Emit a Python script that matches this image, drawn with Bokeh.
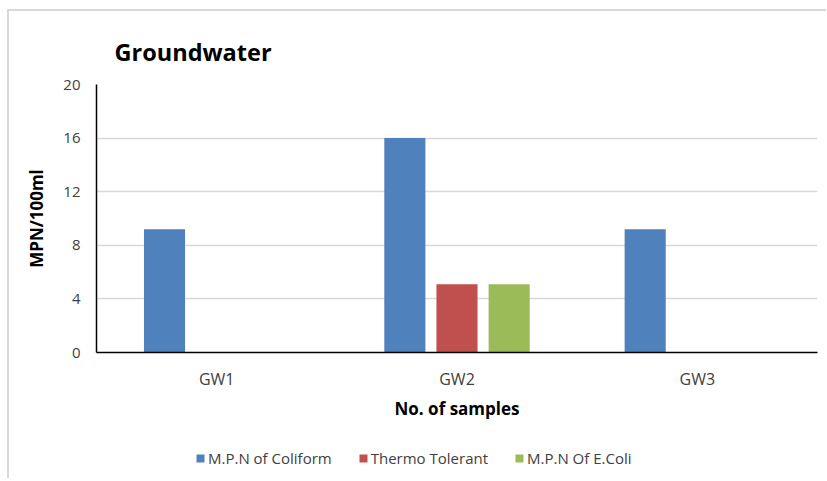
from bokeh.plotting import figure
from bokeh.models import ColumnDataSource, FactorRange, Legend, LegendItem
from bokeh.layouts import column
from bokeh.transform import dodge
from bokeh.embed import file_html
from bokeh.resources import INLINE

samples = ["GW1", "GW2", "GW3"]
coliform = [9.2, 16, 9.2]
thermo = [0, 5.1, 0]
ecoli = [0, 5.1, 0]
y_ticks = [0, 4, 8, 12, 16, 20]
series_names = ["M.P.N of Coliform", "Thermo Tolerant", "M.P.N Of E.Coli"]
colors = ["#4F81BD", "#C0504D", "#9BBB59"]

FONT = "Open Sans"

src = ColumnDataSource(dict(samples=samples, coliform=coliform, thermo=thermo, ecoli=ecoli))

p = figure(x_range=FactorRange(factors=samples, range_padding=0), y_range=(0, 20),
           width=817, height=412, output_backend="svg", toolbar_location=None,
           min_border_left=87, min_border_right=9, min_border_top=73, min_border_bottom=71)

w = 0.171
offsets = [-0.217, 0.0, 0.217]
fields = ["coliform", "thermo", "ecoli"]
for f, off, c in zip(fields, offsets, colors):
    p.vbar(x=dodge("samples", off, range=p.x_range), top=f, width=w, source=src,
           fill_color=c, line_color=None)

p.title.text = "Groundwater"
p.title.text_font = FONT
p.title.text_font_size = "23.5px"
p.title.text_font_style = "bold"
p.title.text_color = "#000000"
p.title.offset = 18
p.title.standoff = 34

p.outline_line_color = None
p.xgrid.grid_line_color = None
p.ygrid.grid_line_color = "#d9d9d9"
p.ygrid.grid_line_width = 1.5
p.yaxis.ticker = y_ticks

for ax in (p.xaxis, p.yaxis):
    ax.axis_line_color = "black"
    ax.axis_line_width = 1.5
    ax.major_tick_line_color = None
    ax.minor_tick_line_color = None
    ax.major_label_text_font = FONT
    ax.major_label_text_color = "#404040"
    ax.axis_label_text_font = FONT
    ax.axis_label_text_font_size = "17px"
    ax.axis_label_text_font_style = "bold"
    ax.axis_label_text_color = "black"

p.xaxis.major_label_text_font_size = "16px"
p.yaxis.major_label_text_font_size = "15px"
p.xaxis.axis_label = "No. of samples"
p.yaxis.axis_label = "MPN/100ml"
p.xaxis.major_label_standoff = 9
p.xaxis.axis_label_standoff = 4
p.yaxis.major_label_standoff = 10
p.yaxis.axis_label_standoff = 12

# legend strip below the chart (legend-only renderers carry no visible points)
lf = figure(width=817, height=55, output_backend="svg", toolbar_location=None,
            x_range=(0, 1), y_range=(0, 1), min_border=0,
            x_axis_location=None, y_axis_location=None)
lf.grid.visible = False
lf.outline_line_color = None
nan = float("nan")
items = []
for name, c in zip(series_names, colors):
    r = lf.rect(x=[nan], y=[nan], width=1, height=1, fill_color=c, line_color=None)
    items.append(LegendItem(label=name, renderers=[r]))
legend = Legend(items=items, orientation="horizontal", location=(99, 10),
                border_line_color=None, background_fill_alpha=0,
                label_text_font=FONT, label_text_font_size="15px", label_text_color="#404040",
                glyph_width=10, glyph_height=10, label_standoff=3, spacing=26,
                margin=0, padding=0)
lf.add_layout(legend, "center")

layout = column(p, lf, spacing=0)
layout.styles = {"border-top": "2px solid #d9d9d9", "border-left": "2px solid #d9d9d9",
                 "margin-left": "7px", "margin-top": "9px"}

open("out.html", "w").write(file_html(layout, INLINE))
